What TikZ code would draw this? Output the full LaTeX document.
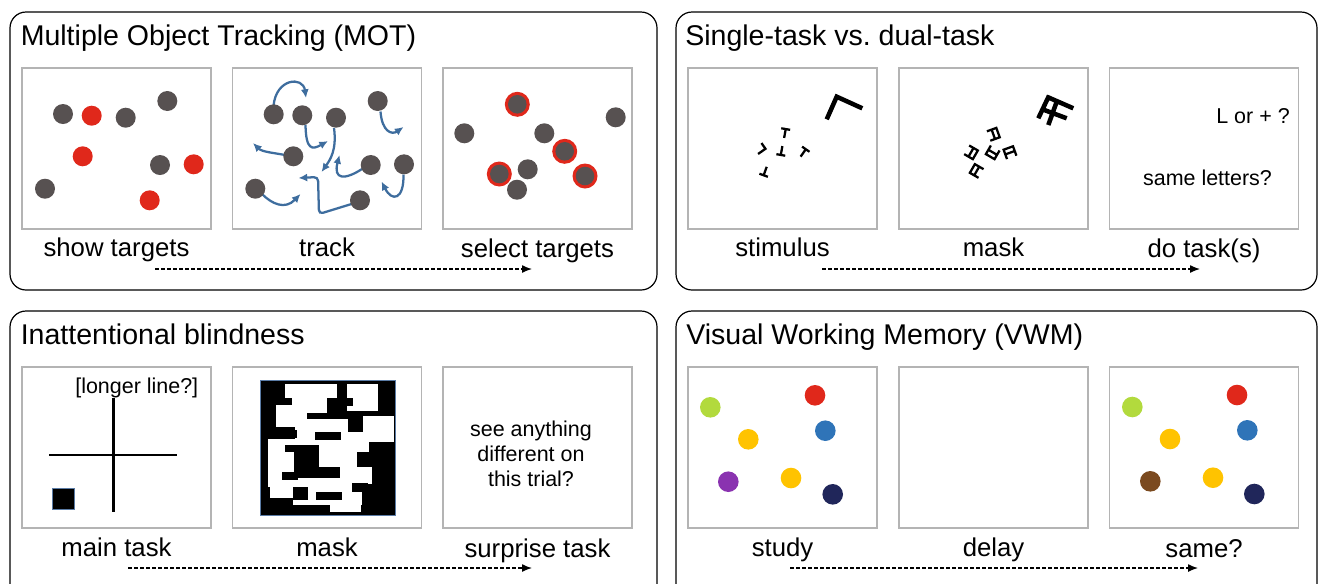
\documentclass[tikz,border=0pt]{standalone}
\usepackage{fontspec}
\setmainfont{Liberation Sans}
\usetikzlibrary{arrows.meta,positioning}

\definecolor{dotgray}{HTML}{575151}
\definecolor{dotred}{HTML}{E0281B}
\definecolor{boxgray}{HTML}{B4B4B4}
\definecolor{trackblue}{HTML}{3E6D9E}
\definecolor{vgreen}{HTML}{B2DA3D}
\definecolor{vyellow}{HTML}{FFC300}
\definecolor{vblue}{HTML}{2F74B8}
\definecolor{vpurple}{HTML}{8A33B0}
\definecolor{vnavy}{HTML}{20265A}
\definecolor{vbrown}{HTML}{7B4A1F}
\definecolor{maskedge}{HTML}{5A7BA5}

\tikzstyle{panel}      = [draw=black, line width=0.9pt, rounded corners=12pt]
\tikzstyle{stagebox}   = [draw=boxgray, line width=1.1pt, minimum width=141.75pt, minimum height=120.75pt, inner sep=0pt, outer sep=0pt]
\tikzstyle{paneltitle} = [anchor=base west, inner sep=0pt, font=\fontsize{21.4}{25}\selectfont]
\tikzstyle{steplabel}  = [anchor=base, inner sep=0pt, font=\fontsize{19.3}{23}\selectfont]
\tikzstyle{boxnote}    = [inner sep=0pt, font=\fontsize{16.1}{18.75}\selectfont]
\tikzstyle{timeline}   = [line width=1pt, dash pattern=on 3pt off 1.5pt, -{Latex[length=7.5pt,width=6pt]}]
\tikzstyle{trackpath}  = [trackblue, line width=1.7pt, -{Latex[length=6.5pt,width=6pt]}]

\tikzset{
  tletter/.pic={\draw[line width=1.7pt] (-4.5,-4) -- (4.5,-4) (0,-4) -- (0,5);},
  lletter/.pic={\draw[line width=1.7pt] (0,-6) -- (0,3) -- (7,3);},
  maskletter/.pic={\draw[line width=1.7pt] (-5,-5) -- (-5,5) -- (5,5) -- (5,-5) (-5,0) -- (5,0);}
}

\begin{document}
\begin{tikzpicture}[x=0.75pt, y=-0.75pt]
  \clip (0,0) rectangle (1319,583);

  % panels
  \draw[panel] (10,12) rectangle (657,290);
  \draw[panel] (676,12) rectangle (1317,290);
  \draw[panel] (10,311) rectangle (657,600);
  \draw[panel] (676,311) rectangle (1317,600);

  \node[paneltitle] (t-mot)  at (20.5,45.5)  {Multiple Object Tracking (MOT)};
  \node[paneltitle] (t-dual) at (685,45.5)   {Single-task vs.\ dual-task};
  \node[paneltitle] (t-ib)   at (20.5,344.5) {Inattentional blindness};
  \node[paneltitle] (t-vwm)  at (686,344.5)  {Visual Working Memory (VWM)};

  % stage boxes
  \node[stagebox] (show)     at (116.5,148.5) {};
  \node[stagebox] (track)    at (327,148.5)   {};
  \node[stagebox] (select)   at (537.5,148.5) {};
  \node[stagebox] (stim)     at (782.5,148.5) {};
  \node[stagebox] (mask)     at (993.5,148.5) {};
  \node[stagebox] (dotask)   at (1204,148.5)  {};
  \node[stagebox] (maintask) at (116.5,447.5) {};
  \node[stagebox] (ibmask)   at (327,447.5)   {};
  \node[stagebox] (surprise) at (537.5,447.5) {};
  \node[stagebox] (study)    at (782.5,447.5) {};
  \node[stagebox] (delay)    at (993.5,447.5) {};
  \node[stagebox] (same)     at (1204,447.5)  {};

  \node[steplabel] (l-show)     at (116.5,256) {show targets};
  \node[steplabel] (l-track)    at (327,256)   {track};
  \node[steplabel] (l-select)   at (537.5,257) {select targets};
  \node[steplabel] (l-stim)     at (782.5,256) {stimulus};
  \node[steplabel] (l-mask)     at (993.5,256) {mask};
  \node[steplabel] (l-dotask)   at (1204,257)  {do task(s)};
  \node[steplabel] (l-maintask) at (116.5,556) {main task};
  \node[steplabel] (l-ibmask)   at (327,556)   {mask};
  \node[steplabel] (l-surprise) at (537.5,557) {surprise task};
  \node[steplabel] (l-study)    at (782.5,556) {study};
  \node[steplabel] (l-delay)    at (993.5,556) {delay};
  \node[steplabel] (l-same)     at (1204,557)  {same?};

  % time arrows
  \coordinate (mot-a) at (155,269);  \coordinate (mot-b) at (532,269);
  \coordinate (dual-a) at (822,269); \coordinate (dual-b) at (1200,269);
  \coordinate (ib-a) at (128,568);   \coordinate (ib-b) at (532,568);
  \coordinate (vwm-a) at (790,568);  \coordinate (vwm-b) at (1198,568);
  \draw[timeline] (mot-a) -- (mot-b);
  \draw[timeline] (dual-a) -- (dual-b);
  \draw[timeline] (ib-a) -- (ib-b);
  \draw[timeline] (vwm-a) -- (vwm-b);

  % MOT: show targets
  \foreach \x/\y in {63/114, 125.7/117.7, 167.3/101, 160/165, 45/188.7}
    \fill[dotgray] (\x,\y) circle (10);
  \foreach \x/\y in {91.7/115.7, 82.7/156.3, 193.7/164.3, 149.7/200.3}
    \fill[dotred] (\x,\y) circle (10);

  % MOT: track
  \draw[trackpath] (273.5,106) .. controls (276,78) and (303,76) .. (306,98);
  \draw[trackpath] (305.5,125) .. controls (306,150) and (312,150) .. (328,141);
  \draw[trackpath] (334,128) .. controls (337,150) and (330,160) .. (321.5,172);
  \draw[trackpath] (380.5,111.5) .. controls (382,132) and (392,135) .. (403.5,127);
  \draw[trackpath] (285,155) .. controls (275,153) and (262,152) .. (253,143);
  \draw[trackpath] (362,169) .. controls (345,180) and (333,180) .. (339.5,155);
  \draw[trackpath] (403.5,174.5) .. controls (404,200) and (392,202) .. (381.5,181.5);
  \draw[trackpath] (262,194) .. controls (272,204) and (285,210) .. (300.5,194);
  \draw[trackpath, rounded corners=3pt] (351.5,204) -- (319,214) -- (318,177) -- (298.5,178);
  \foreach \x/\y in {273.7/114.3, 302.3/115.3, 336/117.7, 377.7/101, 293.3/156.3,
                     370.7/165, 404/164.3, 255.3/188.7, 360/200.3}
    \fill[dotgray] (\x,\y) circle (10);

  % MOT: select targets
  \foreach \x/\y in {615.7/117.3, 464.3/133.3, 544.3/133.3, 527.7/169.3, 517/189.7}
    \fill[dotgray] (\x,\y) circle (10);
  \foreach \x/\y in {517.3/104.3, 564.7/151.3, 499.3/174, 585/176} {
    \fill[dotred] (\x,\y) circle (12.5);
    \fill[dotgray] (\x,\y) circle (9.3);
  }

  % single/dual task: stimulus
  \draw[line width=3.4pt, miter limit=4] (826.7,119.3) -- (836.7,96.7) -- (862.3,108.3);
  \pic[rotate=-10] at (785,133) {tletter};
  \pic[rotate=125] at (763,150.5) {lletter};
  \pic[rotate=170] at (781.5,151) {tletter};
  \pic[rotate=-35] at (803.5,152.5) {tletter};
  \pic[rotate=160] at (765,171.5) {tletter};

  % single/dual task: mask
  \draw[line width=3.4pt] (1038.3,118.3) -- (1049,95.7)
                          (1046.7,96.7) -- (1073.3,108.3)
                          (1044.3,110) -- (1066.7,118.3)
                          (1056.7,101.7) -- (1048.3,125);
  \pic[rotate=110]  at (993.3,134.3) {maskletter};
  \pic[rotate=60]   at (971,152.3)   {maskletter};
  \pic[rotate=-30]  at (992.7,152.3) {maskletter};
  \pic[rotate=200]  at (1010,152.7)  {maskletter};
  \pic[rotate=-120] at (976.7,171)   {maskletter};

  % single/dual task: questions
  \node[boxnote, anchor=base] (q-shape)   at (1253,123)   {L or + ?};
  \node[boxnote, anchor=base] (q-letters) at (1207.5,185) {same letters?};

  % inattentional blindness: main task
  \node[boxnote, anchor=base east] (q-line) at (198.5,393) {[longer line?]};
  \draw[line width=2pt] (113.3,398.3) -- (113.3,512.3)
                        (49.3,455) -- (176.7,455);
  \filldraw[fill=black, draw=maskedge, line width=0.6pt] (52.7,488.3) rectangle (74.3,509.3);

  % inattentional blindness: mask
  \begin{scope}[shift={(230,365)}, x=0.25pt, y=-0.25pt]
    \fill[black] (90,47) rectangle (495,450);
    \foreach \a/\b/\c/\d in {165/58/322/100, 350/57/444/138, 185/98/292/145,
                             138/120/232/185, 195/162/358/262, 398/152/492/232,
                             358/200/418/262, 113/222/195/365, 265/262/382/305,
                             330/305/425/358, 115/340/365/365, 120/365/190/398,
                             235/365/395/420, 300/420/393/442, 190/405/300/420}
      \fill[white] (\a,\b) rectangle (\c,\d);
    \foreach \a/\b/\c/\d in {292/100/368/122, 230/145/398/162, 355/150/398/200,
                             255/200/332/225, 90/195/200/220, 165/240/268/262,
                             192/260/268/335, 215/305/330/340, 155/320/205/345,
                             380/262/420/300, 365/355/414/380, 188/372/235/405,
                             258/380/336/405}
      \fill[black] (\a,\b) rectangle (\c,\d);
    \draw[maskedge, line width=0.75pt] (90,47) rectangle (495,450);
  \end{scope}

  % inattentional blindness: surprise question
  \node[boxnote, align=center] (q-surprise) at (531,454) {see anything\\different on\\this trial?};

  % VWM: study and test
  \foreach \x/\y/\c in {710.3/407.3/vgreen, 815/395.3/dotred, 748.3/439.3/vyellow,
                        825.3/430.7/vblue, 728.3/481.7/vpurple, 791/478/vyellow,
                        832.7/494.3/vnavy}
    \fill[\c] (\x,\y) circle (10.3);
  \foreach \x/\y/\c in {1132.3/407/vgreen, 1237/395/dotred, 1170/439/vyellow,
                        1247.3/430.3/vblue, 1150.3/481.3/vbrown, 1213/477.7/vyellow,
                        1254.3/494/vnavy}
    \fill[\c] (\x,\y) circle (10.3);
\end{tikzpicture}
\end{document}
